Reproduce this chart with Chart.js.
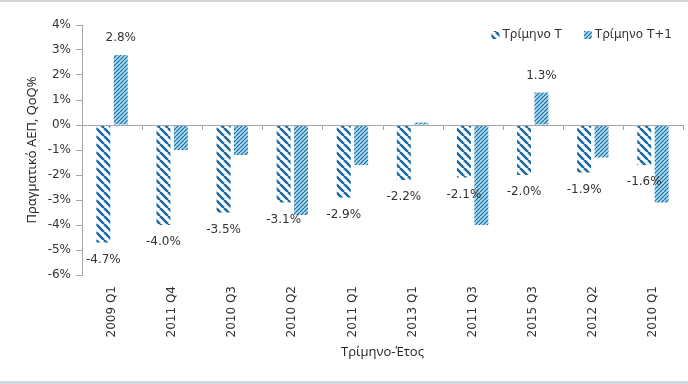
<!DOCTYPE html>
<html>
<head>
<meta charset="utf-8">
<script src="https://cdn.jsdelivr.net/npm/chart.js@4.4.1/dist/chart.umd.min.js"></script>
<style>
  html, body { margin: 0; padding: 0; background: #fff; overflow: hidden; }
  #wrap { position: relative; width: 688px; height: 384px; overflow: hidden; }
  #topband { position: absolute; left: 0; top: 0; width: 688px; height: 2px; background: #d3d6da; }
  #botband { position: absolute; left: 0; bottom: 0; width: 688px; height: 3px; background: #d3d8dc; }
  canvas { position: absolute; left: 0; top: 0; }
</style>
</head>
<body>
<div id="wrap">
  <canvas id="c" width="688" height="384"></canvas>
  <div id="topband"></div>
  <div id="botband"></div>
</div>
<script>
const categories = ['2009 Q1', '2011 Q4', '2010 Q3', '2010 Q2', '2011 Q1', '2013 Q1', '2011 Q3', '2015 Q3', '2012 Q2', '2010 Q1'];
const seriesT = [-4.7, -4.0, -3.5, -3.1, -2.9, -2.2, -2.1, -2.0, -1.9, -1.6];
const seriesT1 = [2.8, -1.0, -1.2, -3.6, -1.6, 0.1, -4.0, 1.3, -1.3, -3.1];
const seriesNames = ['Τρίμηνο T', 'Τρίμηνο T+1'];
const yTicks = [4, 3, 2, 1, 0, -1, -2, -3, -4, -5, -6];

const DARK = '#1b6aa3';
const LIGHT = '#a9dcef';

function patternT(ctx) {
  const s = 8;
  const c = document.createElement('canvas');
  c.width = s; c.height = s;
  const g = c.getContext('2d');
  g.fillStyle = '#ffffff';
  g.fillRect(0, 0, s, s);
  g.strokeStyle = DARK;
  g.lineWidth = 2.6;
  g.beginPath();
  for (let k = -1; k <= 1; k++) {
    g.moveTo(k * s, 0);
    g.lineTo(k * s + s, s);
  }
  g.stroke();
  return ctx.createPattern(c, 'repeat');
}
function patternT1(ctx) {
  const s = 4;
  const c = document.createElement('canvas');
  c.width = s; c.height = s;
  const g = c.getContext('2d');
  g.fillStyle = LIGHT;
  g.fillRect(0, 0, s, s);
  g.strokeStyle = DARK;
  g.lineWidth = 1.2;
  g.beginPath();
  for (let k = -1; k <= 1; k++) {
    g.moveTo(k * s, s);
    g.lineTo(k * s + s, 0);
  }
  g.stroke();
  return ctx.createPattern(c, 'repeat');
}

const canvas = document.getElementById('c');
const ctx = canvas.getContext('2d');
const pT = patternT(ctx);
const pT1 = patternT1(ctx);

const labelPlugin = {
  id: 'valueLabels',
  afterDatasetsDraw(chart) {
    const c = chart.ctx;
    c.save();
    c.font = '12px "DejaVu Sans"';
    c.fillStyle = '#333333';
    c.textAlign = 'center';
    c.textBaseline = 'middle';
    chart.data.datasets.forEach((ds, di) => {
      const meta = chart.getDatasetMeta(di);
      meta.data.forEach((el, i) => {
        const v = ds.data[i];
        if (di === 1 && v < 0.5) return;
        const y = v < 0 ? el.y + 17 : el.y - 17;
        c.fillText(v.toFixed(1) + '%', el.x, y);
      });
    });
    c.restore();
  }
};

const zeroTicksPlugin = {
  id: 'zeroTicks',
  afterDatasetsDraw(chart) {
    const x = chart.scales.x, y = chart.scales.y;
    const y0 = y.getPixelForValue(0);
    const c = chart.ctx;
    c.save();
    c.strokeStyle = '#a6a6a6';
    c.lineWidth = 1;
    c.beginPath();
    c.moveTo(chart.chartArea.left, y0 + 0.5);
    c.lineTo(chart.chartArea.right, y0 + 0.5);
    for (let i = 0; i <= categories.length; i++) {
      const px = Math.round(x.getPixelForValue(i - 0.5)) + 0.5;
      c.moveTo(px, y0);
      c.lineTo(px, y0 + 5);
    }
    c.stroke();
    c.restore();
  }
};

const legendPlugin = {
  id: 'customLegend',
  afterDraw(chart) {
    const c = chart.ctx;
    c.save();
    c.font = '12px "DejaVu Sans"';
    c.fillStyle = '#333333';
    c.textBaseline = 'middle';
    c.textAlign = 'left';
    const yc = chart.chartArea.top + 10;
    const box = 8, gapBox = 3, gapItem = 22;
    const items = chart.data.datasets.map(d => ({ text: d.label, fill: d.backgroundColor, w: c.measureText(d.label).width }));
    let total = 0;
    items.forEach((it, i) => { total += box + gapBox + it.w + (i ? gapItem : 0); });
    let x = chart.chartArea.right - 11 - total;
    items.forEach((it, i) => {
      if (i) x += gapItem;
      c.fillStyle = it.fill;
      c.fillRect(x, yc - box / 2, box, box);
      x += box + gapBox;
      c.fillStyle = '#333333';
      c.fillText(it.text, x, yc);
      x += it.w;
    });
    c.restore();
  }
};

new Chart(canvas, {
  type: 'bar',
  data: {
    labels: categories,
    datasets: [
      { label: seriesNames[0], data: seriesT, backgroundColor: pT, borderWidth: 0, categoryPercentage: 0.58, barPercentage: 0.8 },
      { label: seriesNames[1], data: seriesT1, backgroundColor: pT1, borderWidth: 0, categoryPercentage: 0.58, barPercentage: 0.8 }
    ]
  },
  options: {
    responsive: false,
    animation: false,
    layout: { padding: { left: 24, right: 5, top: 25, bottom: 20 } },
    plugins: {
      legend: { display: false },
      tooltip: { enabled: false }
    },
    scales: {
      x: {
        grid: { display: false, drawTicks: false },
        border: { display: false },
        ticks: {
          minRotation: 90, maxRotation: 90, padding: 11,
          color: '#333333',
          font: { family: 'DejaVu Sans', size: 12 }
        },
        title: {
          display: true, text: 'Τρίμηνο-Έτος', color: '#222222',
          font: { family: 'Open Sans', size: 13 }, padding: { top: 4, bottom: 4 }
        },
        afterFit(scale) { scale.height = 89; }
      },
      y: {
        min: -6, max: 4,
        afterBuildTicks(scale) { scale.ticks = yTicks.map(v => ({ value: v })); },
        grid: {
          drawOnChartArea: false, drawTicks: true, tickLength: 6, color: '#a6a6a6'
        },
        border: { display: true, color: '#a6a6a6' },
        ticks: {
          padding: 5, color: '#333333',
          font: { family: 'DejaVu Sans', size: 12 },
          callback: v => v + '%'
        },
        title: {
          display: true, text: 'Πραγματικό ΑΕΠ, QoQ%', color: '#222222',
          font: { family: 'Open Sans', size: 13 }, padding: 0
        },
        afterFit(scale) { scale.width = 58; }
      }
    }
  },
  plugins: [labelPlugin, zeroTicksPlugin, legendPlugin]
});
</script>
</body>
</html>
